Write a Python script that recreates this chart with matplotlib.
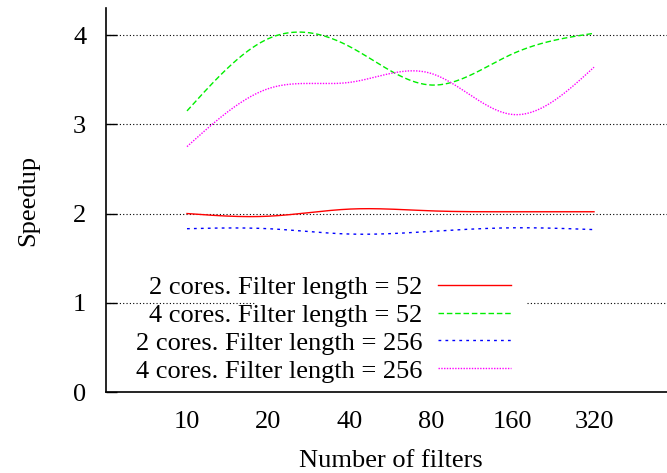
import numpy as np
import matplotlib.pyplot as plt

filters = ['10', '20', '40', '80', '160', '320']
c2_f52 = [2.00, 1.97, 2.05, 2.03, 2.02, 2.02]
c4_f52 = [3.15, 3.96, 3.87, 3.44, 3.79, 4.02]
c2_f256 = [1.83, 1.83, 1.77, 1.80, 1.84, 1.82]
c4_f256 = [2.75, 3.40, 3.47, 3.57, 3.11, 3.64]


def csplines(x, y, n=300):
    # natural cubic spline, like gnuplot "smooth csplines"
    x = np.asarray(x, float)
    y = np.asarray(y, float)
    k = len(x)
    h = np.diff(x)
    A = np.zeros((k, k))
    r = np.zeros(k)
    A[0, 0] = A[-1, -1] = 1
    for i in range(1, k - 1):
        A[i, i - 1] = h[i - 1]
        A[i, i] = 2 * (h[i - 1] + h[i])
        A[i, i + 1] = h[i]
        r[i] = 6 * ((y[i + 1] - y[i]) / h[i] - (y[i] - y[i - 1]) / h[i - 1])
    M = np.linalg.solve(A, r)
    xs = np.linspace(x[0], x[-1], n)
    j = np.clip(np.searchsorted(x, xs) - 1, 0, k - 2)
    hj = h[j]
    a = x[j + 1] - xs
    b = xs - x[j]
    ys = (M[j] * a ** 3 + M[j + 1] * b ** 3) / (6 * hj) \
        + (y[j] / hj - M[j] * hj / 6) * a + (y[j + 1] / hj - M[j + 1] * hj / 6) * b
    return xs, ys


plt.rcParams['font.family'] = ['Liberation Serif', 'DejaVu Serif']
plt.rcParams['font.size'] = 19

fig = plt.figure(figsize=(6.67, 4.73), dpi=100)
ax = fig.add_axes([105.6 / 667, 81 / 473, 7 * 81.4 / 667, 383.7 / 473])

pos = np.arange(len(filters))
series = [
    (c2_f52, '2 cores. Filter length = 52', '#ff0000', '-'),
    (c4_f52, '4 cores. Filter length = 52', '#00ee00', (0, (4, 2))),
    (c2_f256, '2 cores. Filter length = 256', '#0000ff', (0, (2, 3))),
    (c4_f256, '4 cores. Filter length = 256', '#ff00ff', (0, (1, 1))),
]

# dotted grid, the y=1 line is broken behind the key
for g in [2, 3, 4]:
    ax.hlines(g, -1, 6, colors='black', linestyles=(0, (1, 2)), linewidth=0.8, zorder=1)
ax.hlines(1, -1, 0.835, colors='black', linestyles=(0, (1, 2)), linewidth=0.8, zorder=1)
ax.hlines(1, 4.18, 6, colors='black', linestyles=(0, (1, 2)), linewidth=0.8, zorder=1)

for vals, lab, col, ls in series:
    xs, ys = csplines(pos, vals)
    ax.plot(xs, ys, color=col, linestyle=ls, linewidth=1.0, label=lab, zorder=2)

ax.set_xlim(-1, 6)
ax.set_ylim(0, 4.3)
ax.set_xticks(pos)
ax.set_xticklabels(filters)
ax.set_yticks([0, 1, 2, 3, 4])
ax.tick_params(axis='x', length=0, pad=14)
ax.tick_params(axis='y', direction='in', length=8, width=1, pad=14)
ax.spines['top'].set_visible(False)
ax.spines['right'].set_visible(False)
ax.spines['left'].set_linewidth(1.2)
ax.spines['bottom'].set_linewidth(1.2)

ax.set_ylabel('Speedup', labelpad=24)
ax.set_xlabel('Number of filters', labelpad=12)

ax.legend(loc='center right', bbox_to_anchor=(511 / 667, 1 - 329 / 473),
          bbox_transform=fig.transFigure, frameon=False, markerfirst=False,
          handlelength=2.75, handletextpad=0.62, labelspacing=0.17,
          borderpad=0, borderaxespad=0)

fig.savefig('out.png', dpi=100)
